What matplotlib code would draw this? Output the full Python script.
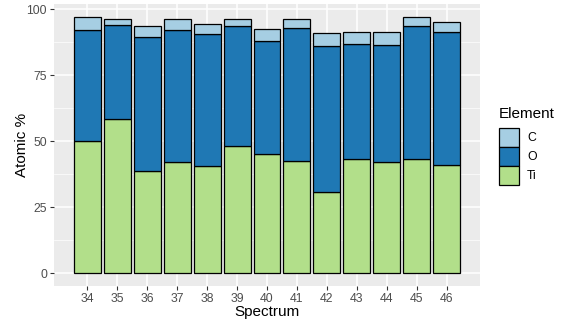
import matplotlib
matplotlib.use("Agg")
import matplotlib.pyplot as plt
import numpy as np
from matplotlib.patches import Patch

plt.rcParams['font.family'] = ['Liberation Sans', 'DejaVu Sans']

spectrum = ["34", "35", "36", "37", "38", "39", "40", "41", "42", "43", "44", "45", "46"]
ti = [49.9, 58.4, 38.6, 42.2, 40.6, 48.2, 45.2, 42.4, 30.7, 43.2, 42.0, 43.4, 40.8]
o = [42.1, 35.5, 50.9, 49.8, 50.0, 45.6, 42.9, 50.5, 55.3, 43.7, 44.5, 50.2, 50.7]
c = [5.1, 2.5, 4.1, 4.3, 3.7, 2.4, 4.2, 3.3, 4.8, 4.6, 5.0, 3.4, 3.8]

col_c = "#a6cee3"
col_o = "#1f78b4"
col_ti = "#b2df8a"

fig = plt.figure(figsize=(5.61, 3.24), dpi=100)
ax = fig.add_axes([54/561, 38/324, 426/561, 282/324])
ax.set_facecolor("#EBEBEB")

x = np.arange(len(spectrum))
ti_a = np.array(ti); o_a = np.array(o); c_a = np.array(c)
kw = dict(width=0.9, edgecolor="black", linewidth=0.9, zorder=3)
ax.bar(x, ti_a, color=col_ti, **kw)
ax.bar(x, o_a, bottom=ti_a, color=col_o, **kw)
ax.bar(x, c_a, bottom=ti_a + o_a, color=col_c, **kw)

ax.set_xlim(-1.11, len(spectrum) - 1 + 1.11)
ax.set_ylim(-4.85, 101.95)
ax.set_xticks(x)
ax.set_xticklabels(spectrum)
ax.set_yticks([0, 25, 50, 75, 100])
ax.set_yticks([12.5, 37.5, 62.5, 87.5], minor=True)
ax.grid(which="major", color="white", linewidth=1.1, zorder=0)
ax.grid(which="minor", axis="y", color="white", linewidth=0.5, zorder=0)
ax.set_axisbelow(True)
for s in ax.spines.values():
    s.set_visible(False)
ax.tick_params(axis="both", which="major", colors="#333333", labelcolor="#4D4D4D",
               labelsize=8.8, length=3, width=0.8, pad=2)
ax.tick_params(axis="both", which="minor", length=0)

ax.set_xlabel("Spectrum", fontsize=11, color="black")
ax.set_ylabel("Atomic %", fontsize=11, color="black")
ax.yaxis.set_label_coords(-0.075, 0.5)
ax.xaxis.set_label_coords(0.5, -0.092)
ax.xaxis.label.set_va("center")
ax.yaxis.label.set_va("center")

handles = [Patch(facecolor=col_c, edgecolor="black", linewidth=0.9, label="C"),
           Patch(facecolor=col_o, edgecolor="black", linewidth=0.9, label="O"),
           Patch(facecolor=col_ti, edgecolor="black", linewidth=0.9, label="Ti")]
leg = fig.legend(handles=handles, title="Element", loc="upper left",
                 bbox_to_anchor=(499/561, 1 - 107/324), frameon=False,
                 fontsize=8.8, title_fontsize=11, handlelength=1.64, handleheight=2.02,
                 labelspacing=0.0, handletextpad=0.65, borderaxespad=0, borderpad=0)
leg._legend_box.align = "left"
leg._legend_box.sep = 5

fig.savefig("out.png", dpi=100)
